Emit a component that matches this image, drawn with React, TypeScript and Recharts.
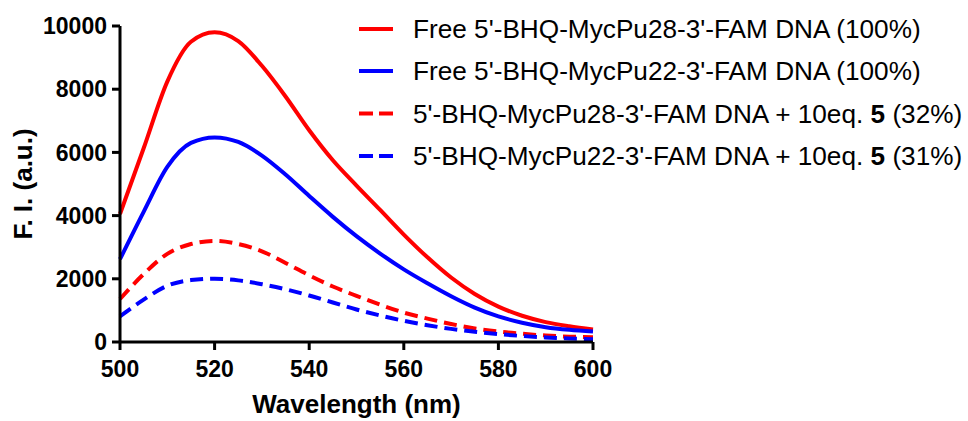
import { Line, LineChart, XAxis, YAxis } from 'recharts';

const wavelengths = [500, 505, 510, 515, 520, 525, 530, 535, 540, 545, 550, 555, 560, 565, 570, 575, 580, 585, 590, 595, 600];
const free28 = [4050, 6130, 8240, 9500, 9800, 9520, 8740, 7770, 6700, 5750, 4950, 4180, 3400, 2680, 2040, 1520, 1120, 830, 630, 500, 400];
const free22 = [2620, 4120, 5540, 6300, 6475, 6330, 5900, 5300, 4620, 3960, 3350, 2800, 2300, 1860, 1450, 1090, 810, 610, 470, 385, 330];
const bound28 = [1360, 2150, 2790, 3100, 3200, 3100, 2870, 2500, 2110, 1756, 1460, 1180, 930, 740, 570, 430, 330, 260, 205, 170, 150];
const bound22 = [810, 1340, 1780, 1960, 2000, 1950, 1830, 1670, 1470, 1250, 1030, 840, 670, 530, 415, 325, 250, 190, 145, 110, 90];

const xTicks = [500, 520, 540, 560, 580, 600];
const yTicks = [0, 2000, 4000, 6000, 8000, 10000];

const RED = '#FF0000';
const BLUE = '#0000FF';
const DASH = '13 7';
const FONT = '"Liberation Sans", Arial, Helvetica, sans-serif';

const data = wavelengths.map((nm, i) => ({
  nm,
  free28: free28[i],
  free22: free22[i],
  bound28: bound28[i],
  bound22: bound22[i],
}));

const legendItems = [
  { color: RED, dash: false, text: "Free 5'-BHQ-MycPu28-3'-FAM DNA (100%)" },
  { color: BLUE, dash: false, text: "Free 5'-BHQ-MycPu22-3'-FAM DNA (100%)" },
  { color: RED, dash: true, text: "5'-BHQ-MycPu28-3'-FAM DNA + 10eq. ", bold: '5', tail: ' (32%)' },
  { color: BLUE, dash: true, text: "5'-BHQ-MycPu22-3'-FAM DNA + 10eq. ", bold: '5', tail: ' (31%)' },
];
const legendRows = [29, 71, 113.5, 156];

const tickStyle = { fontSize: 23, fontWeight: 700, fontFamily: FONT, fill: '#000' } as const;

// legend drawn outside the chart so it doesn't eat into the plot offsets
function Legend() {
  return (
    <svg width={968} height={421} style={{ position: 'absolute', left: 0, top: 0, pointerEvents: 'none' }}>
      {legendItems.map((it, i) => {
        const y = legendRows[i];
        return (
          <g key={i}>
            <line
              x1={359}
              x2={393}
              y1={y}
              y2={y}
              stroke={it.color}
              strokeWidth={4}
              strokeDasharray={it.dash ? '14 6' : undefined}
            />
            <text x={413} y={y + 9.3} fontSize={26.2} fontFamily={FONT} fill="#000">
              {it.text}
              {it.bold && <tspan fontWeight={700}>{it.bold}</tspan>}
              {it.tail}
            </text>
          </g>
        );
      })}
    </svg>
  );
}

export default function App() {
  return (
    <div style={{ position: 'absolute', left: 0, top: 0, width: 968, height: 421, background: '#fff' }}>
      <LineChart width={968} height={421} data={data} margin={{ top: 26, right: 375, bottom: 0, left: 0 }}>
        <XAxis
          dataKey="nm"
          type="number"
          domain={[500, 600]}
          ticks={xTicks}
          interval={0}
          tick={tickStyle}
          tickSize={8}
          tickMargin={11}
          height={79}
          axisLine={{ stroke: '#000', strokeWidth: 3 }}
          tickLine={{ stroke: '#000', strokeWidth: 3 }}
          label={{
            content: (props: any) => {
              const vb = props.viewBox || {};
              return (
                <text
                  x={vb.x + vb.width / 2}
                  y={413}
                  textAnchor="middle"
                  fontSize={26}
                  fontWeight={700}
                  fontFamily={FONT}
                  fill="#000"
                >
                  Wavelength (nm)
                </text>
              );
            },
          }}
        />
        <YAxis
          type="number"
          domain={[0, 10000]}
          ticks={yTicks}
          interval={0}
          tick={tickStyle}
          tickSize={8}
          tickMargin={5}
          width={120}
          axisLine={{ stroke: '#000', strokeWidth: 3 }}
          tickLine={{ stroke: '#000', strokeWidth: 3 }}
          label={{
            content: (props: any) => {
              const vb = props.viewBox || {};
              const cy = vb.y + vb.height / 2;
              return (
                <text
                  x={23}
                  y={cy}
                  transform={`rotate(-90 23 ${cy})`}
                  textAnchor="middle"
                  dominantBaseline="central"
                  fontSize={26}
                  fontWeight={700}
                  fontFamily={FONT}
                  fill="#000"
                >
                  F. I. (a.u.)
                </text>
              );
            },
          }}
        />
        <Line type="monotone" dataKey="free28" stroke={RED} strokeWidth={4} dot={false} isAnimationActive={false} />
        <Line type="monotone" dataKey="free22" stroke={BLUE} strokeWidth={4} dot={false} isAnimationActive={false} />
        <Line
          type="monotone"
          dataKey="bound28"
          stroke={RED}
          strokeWidth={4}
          strokeDasharray={DASH}
          dot={false}
          isAnimationActive={false}
        />
        <Line
          type="monotone"
          dataKey="bound22"
          stroke={BLUE}
          strokeWidth={4}
          strokeDasharray={DASH}
          dot={false}
          isAnimationActive={false}
        />
      </LineChart>
      <Legend />
    </div>
  );
}
